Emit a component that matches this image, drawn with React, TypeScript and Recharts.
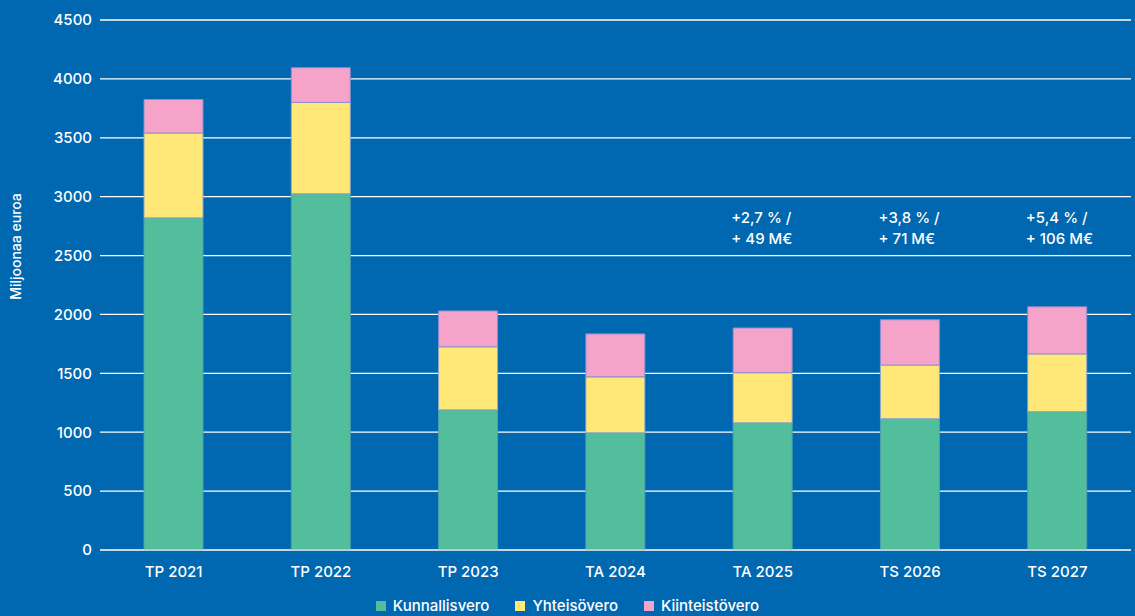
import {
  Bar,
  BarChart,
  CartesianGrid,
  ReferenceDot,
  XAxis,
  YAxis,
} from "recharts";

const BG = "#0067B1";
const GREEN = "#52BE9B"; // kunnallisvero
const YELLOW = "#FFE878"; // yhteisövero
const PINK = "#F5A3C8"; // kiinteistövero

const years = ["TP 2021", "TP 2022", "TP 2023", "TA 2024", "TA 2025", "TS 2026", "TS 2027"];
const kunnallisvero = [2820, 3025, 1190, 995, 1080, 1115, 1175];
const yhteisovero = [720, 775, 535, 475, 425, 455, 490];
const kiinteistovero = [285, 295, 305, 365, 380, 385, 400];

const yTicks = [0, 500, 1000, 1500, 2000, 2500, 3000, 3500, 4000, 4500];

const noteYears = ["TA 2025", "TS 2026", "TS 2027"];
const notePct = ["+2,7 % /", "+3,8 % /", "+5,4 % /"];
const noteEur = ["+ 49 M€", "+ 71 M€", "+ 106 M€"];
const noteLevel = 2690;

const legendItems = [
  { name: "Kunnallisvero", color: GREEN },
  { name: "Yhteisövero", color: YELLOW },
  { name: "Kiinteistövero", color: PINK },
];

const data = years.map((year, i) => ({
  year,
  kunnallisvero: kunnallisvero[i],
  yhteisovero: yhteisovero[i],
  kiinteistovero: kiinteistovero[i],
}));

const FONT = "Inter, 'Noto Sans', sans-serif";
const BAR = 59;

export default function App() {
  return (
    <div
      style={{
        position: "absolute",
        left: 0,
        top: 0,
        width: 1135,
        height: 616,
        background: BG,
        fontFamily: FONT,
        overflow: "hidden",
      }}
    >
      <BarChart
        width={1135}
        height={616}
        data={data}
        margin={{ top: 20, right: 4, left: 0, bottom: 0 }}
        barSize={BAR}
      >
        <CartesianGrid stroke="#ffffff" strokeWidth={1.3} vertical={false} />
        <XAxis
          dataKey="year"
          height={66}
          tickLine={false}
          tickSize={0}
          tickMargin={16}
          axisLine={{ stroke: "#c4d8ea", strokeWidth: 1.5 }}
          tick={{ fill: "#ffffff", fontSize: 15, fontWeight: 500, fontFamily: FONT }}
          interval={0}
        />
        <YAxis
          width={100}
          domain={[0, 4500]}
          ticks={yTicks}
          axisLine={false}
          tickLine={false}
          tickSize={0}
          tickMargin={8}
          tick={{ fill: "#ffffff", fontSize: 15, fontWeight: 500, fontFamily: FONT }}
        />
        <Bar dataKey="kunnallisvero" stackId="a" fill={GREEN} stroke="#4f9fb0" strokeWidth={1} isAnimationActive={false} />
        <Bar dataKey="yhteisovero" stackId="a" fill={YELLOW} stroke="#8fa9c8" strokeWidth={1} isAnimationActive={false} />
        <Bar dataKey="kiinteistovero" stackId="a" fill={PINK} stroke="#8a8fd0" strokeWidth={1} isAnimationActive={false} />
        {noteYears.map((y, i) => (
          <ReferenceDot
            key={y}
            x={y}
            y={noteLevel}
            r={0}
            fill="none"
            stroke="none"
            label={(props: any) => {
              const vb = props.viewBox || {};
              const cx = (vb.x ?? 0) + (vb.width ?? 0) / 2;
              const cy = (vb.y ?? 0) + (vb.height ?? 0) / 2;
              return (
                <text
                  fill="#ffffff"
                  fontSize={15}
                  fontWeight={500}
                  fontFamily={FONT}
                  textAnchor="start"
                >
                  <tspan x={cx - BAR / 2 - 2} y={cy - 10}>{notePct[i]}</tspan>
                  <tspan x={cx - BAR / 2 - 2} y={cy + 11}>{noteEur[i]}</tspan>
                </text>
              );
            }}
          />
        ))}
      </BarChart>
      <div
        style={{
          position: "absolute",
          left: 0,
          top: 178,
          width: 30,
          height: 136,
          display: "flex",
          alignItems: "center",
          justifyContent: "center",
        }}
      >
        <div
          style={{
            transform: "rotate(-90deg)",
            whiteSpace: "nowrap",
            color: "#ffffff",
            fontSize: 14,
            fontWeight: 500,
          }}
        >
          Miljoonaa euroa
        </div>
      </div>
      <div
        style={{
          position: "absolute",
          left: 0,
          top: 596,
          width: 1135,
          display: "flex",
          justifyContent: "center",
          gap: 26,
          color: "#ffffff",
          fontSize: 15,
          fontWeight: 500,
        }}
      >
        {legendItems.map((it) => (
          <span key={it.name} style={{ display: "flex", alignItems: "center", gap: 7 }}>
            <span style={{ width: 10, height: 10, background: it.color, display: "inline-block" }} />
            {it.name}
          </span>
        ))}
      </div>
    </div>
  );
}
